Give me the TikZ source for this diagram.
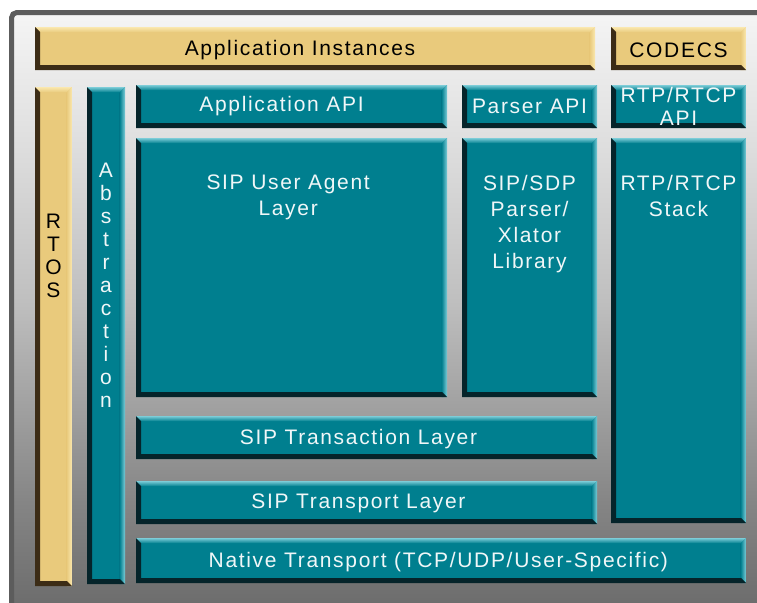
\documentclass[tikz,border=0pt]{standalone}
\usepackage{fontspec}
\setmainfont{Liberation Sans}[LetterSpace=8]
\usetikzlibrary{fit}

\definecolor{layerteal}{RGB}{0,127,143}
\definecolor{layerdark}{RGB}{5,36,42}
\definecolor{layerlight}{RGB}{125,205,216}
\definecolor{sand}{RGB}{233,202,124}
\definecolor{sanddark}{RGB}{60,44,22}
\definecolor{sandlight}{RGB}{250,232,175}
\definecolor{framegrey}{RGB}{92,92,92}

% backdrop: light at the top, dark grey at the bottom (path spans 25bp..75bp)
\pgfdeclareverticalshading{backdrop}{100bp}{rgb(0bp)=(.42,.42,.42); rgb(25bp)=(.42,.42,.42); rgb(34bp)=(.52,.52,.52); rgb(51bp)=(.75,.75,.75); rgb(65bp)=(.88,.88,.88); rgb(75bp)=(.96,.96,.96); rgb(100bp)=(.96,.96,.96)}

\newcommand\bevdark{3.75pt}
\newcommand\bevlite{4pt}

% raised block: fill, shadow edge (left/bottom), highlight edge (top/right)
\tikzset{
  bevel/.style n args={3}{inner sep=0pt, fill=#1, path picture={
    \path (path picture bounding box.north west) coordinate (b-nw)
          (path picture bounding box.north east) coordinate (b-ne)
          (path picture bounding box.south west) coordinate (b-sw)
          (path picture bounding box.south east) coordinate (b-se);
    \shade[top color=#3, bottom color=#1] (b-nw) -- (b-ne) -- ([shift={(-\bevlite,-\bevlite)}]b-ne) -- ([yshift=-\bevlite]b-nw) -- cycle;
    \shade[left color=#1, right color=#3] (b-ne) -- (b-se) -- ([xshift=-\bevlite]b-se) -- ([shift={(-\bevlite,-\bevlite)}]b-ne) -- cycle;
    \fill[#2] (b-sw) -- (b-nw) -- ([shift={(\bevdark,-\bevdark)}]b-nw) -- ([shift={(\bevdark,\bevdark)}]b-sw) -- ([shift={(-\bevdark,\bevdark)}]b-se) -- (b-se) -- cycle;
  }},
  layer/.style={bevel={layerteal}{layerdark}{layerlight}},
  app/.style={bevel={sand}{sanddark}{sandlight}},
  wtext/.style={text=white!94!layerteal, font=\fontsize{15.75}{19.5}\selectfont, align=center, inner sep=0pt},
  btext/.style={wtext, text=black},
  tall/.style={font=\fontsize{15.75}{17.25}\selectfont},
}

\begin{document}
\begin{tikzpicture}[x=0.75pt,y=-0.75pt]
  \useasboundingbox (0,0) rectangle (757,603);
  \clip (0,0) rectangle (757,603);
  \fill[white] (0,0) rectangle (757,603);
  \shadedraw[shading=backdrop, draw=framegrey, line width=3.75pt, rounded corners=4pt] (11.5,12.5) rectangle (790,612);

  % top row
  \node[app, fit={(35,27) (595,70)}, label={[btext, xshift=-11.25pt, yshift=-1pt]center:Application Instances}] (appinst) {};
  \node[app, fit={(611,27) (746,70)}, label={[btext, yshift=-1pt]center:CODECS}] (codecs) {};

  % side columns
  \node[app, fit={(35,87) (72,586)}, label={[btext, tall, anchor=north, yshift=-95.5pt]north:R\\T\\O\\S}] (rtos) {};
  \node[layer, fit={(87,87) (125,584)}, label={[wtext, tall, anchor=north, yshift=-57pt]north:A\\b\\s\\t\\r\\a\\c\\t\\i\\o\\n}] (abstr) {};

  % APIs
  \node[layer, fit={(136,85) (447,128)}, label={[wtext, xshift=-7.5pt]center:Application API}] (appapi) {};
  \node[layer, fit={(462,85) (597,128)}, label={[wtext]center:Parser API}] (parserapi) {};
  \node[layer, fit={(611,85) (746,128)}, label={[wtext, tall]center:RTP/RTCP\\API}] (rtpapi) {};

  % stacks
  \node[layer, fit={(136,138) (447,397)}, label={[wtext, anchor=north, xshift=-2.5pt, yshift=-27.5pt]north:SIP User Agent\\Layer}] (sipua) {};
  \node[layer, fit={(462,138) (597,397)}, label={[wtext, anchor=north, yshift=-28pt]north:SIP/SDP\\Parser/\\Xlator\\Library}] (sipsdp) {};
  \node[layer, fit={(611,138) (746,523)}, label={[wtext, anchor=north, yshift=-28pt]north:RTP/RTCP\\Stack}] (rtpstack) {};

  % lower layers
  \node[layer, fit={(136,416) (597,459)}, label={[wtext, xshift=-6pt, yshift=-1pt]center:SIP Transaction Layer}] (siptrans) {};
  \node[layer, fit={(136,481) (597,524)}, label={[wtext, xshift=-6pt, yshift=-1pt]center:SIP Transport Layer}] (siptransp) {};
  \node[layer, fit={(136,538) (746,583)}, label={[wtext, xshift=-2pt, yshift=-1pt]center:Native Transport (TCP/UDP/User-Specific)}] (native) {};
\end{tikzpicture}
\end{document}
